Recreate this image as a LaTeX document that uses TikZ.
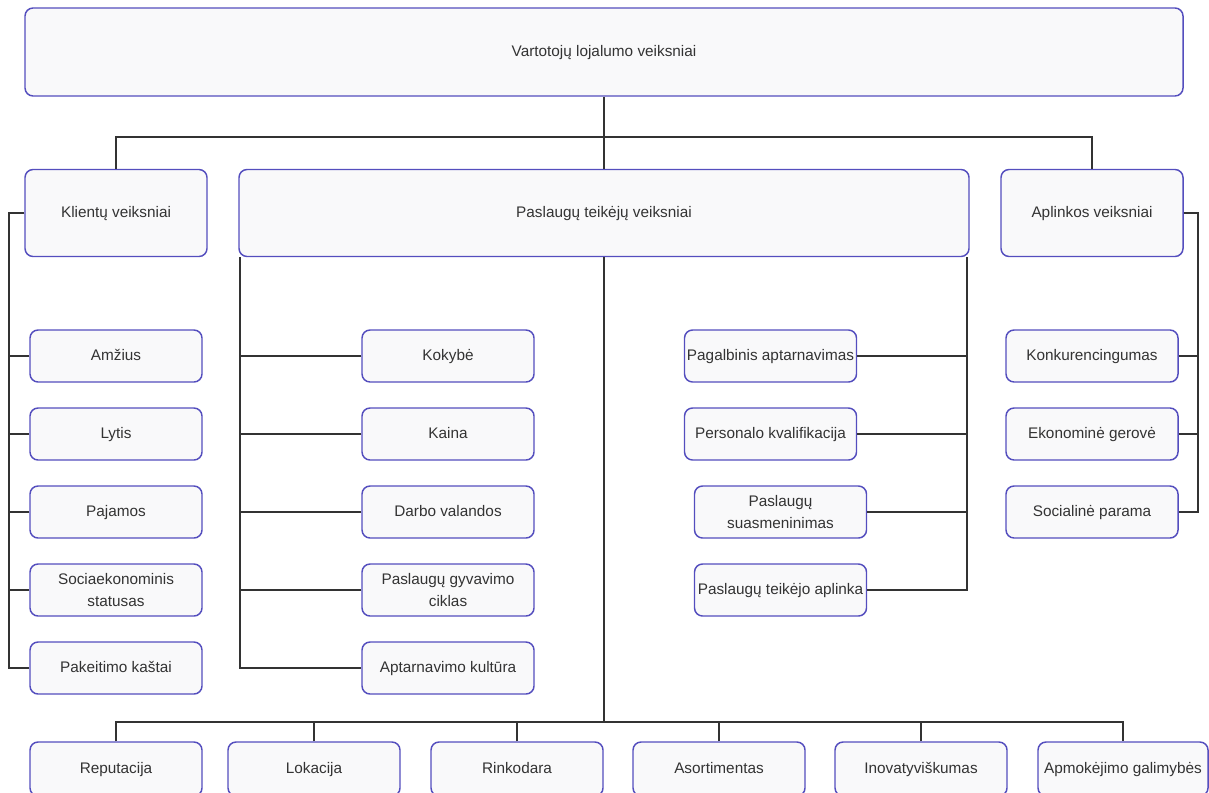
\documentclass[tikz,border=0pt]{standalone}
\usepackage{fontspec}
\setmainfont{Liberation Sans}
\usepackage{tikz}
\usetikzlibrary{calc}
\definecolor{boxblue}{RGB}{84,78,190}
\definecolor{boxfill}{RGB}{249,249,250}
\definecolor{inkgray}{RGB}{51,51,51}
\tikzset{
  boxbase/.style={draw=boxblue, fill=boxfill, line width=1.1pt, rounded corners=6pt,
    inner sep=0pt, align=center, text=inkgray,
    font=\fontsize{11.5}{16.5}\selectfont},
  box/.style={boxbase, text height=8.6pt, text depth=2.6pt},
  kidtwo/.style={boxbase, minimum width=129pt, minimum height=39pt},
  kid/.style={box, minimum width=129pt, minimum height=39pt},
  lowkid/.style={kid, minimum height=40.5pt},
  wire/.style={draw=inkgray, line width=1pt}
}
\begin{document}
\begin{tikzpicture}[x=0.75pt, y=-0.75pt]
                \useasboundingbox (0,0) rectangle (1209,792);

                % main level
                \node[box, minimum width=868.5pt, minimum height=66pt] (root) at (604,52) {Vartotojų lojalumo veiksniai};
                \node[box, minimum width=136.5pt, minimum height=65.25pt] (klient) at (116,213) {Klientų veiksniai};
                \node[box, minimum width=547.5pt, minimum height=65.25pt] (teik) at (604,213) {Paslaugų teikėjų veiksniai};
                \node[box, minimum width=136.5pt, minimum height=65.25pt] (aplink) at (1092,213) {Aplinkos veiksniai};

                % client factors
                \node[kid] (amz) at (116,356) {Amžius};
                \node[kid] (lyt) at (116,434) {Lytis};
                \node[kid] (paj) at (116,512) {Pajamos};
                \node[kidtwo] (soc) at (116,590) {Sociaekonominis\\statusas};
                \node[kid] (pak) at (116,668) {Pakeitimo kaštai};

                % provider factors, left column
                \node[kid] (kok) at (448,356) {Kokybė};
                \node[kid] (kai) at (448,434) {Kaina};
                \node[kid] (darb) at (448,512) {Darbo valandos};
                \node[kidtwo] (gyv) at (448,590) {Paslaugų gyvavimo\\ciklas};
                \node[kid] (kult) at (448,668) {Aptarnavimo kultūra};

                % provider factors, right column
                \node[kid] (pagalb) at (770.5,356) {Pagalbinis aptarnavimas};
                \node[kid] (pers) at (770.5,434) {Personalo kvalifikacija};
                \node[kidtwo] (suasm) at (780.5,512) {Paslaugų\\suasmeninimas};
                \node[kid] (teikapl) at (780.5,590) {Paslaugų teikėjo aplinka};

                % environment factors
                \node[kid] (konk) at (1092,356) {Konkurencingumas};
                \node[kid] (ekon) at (1092,434) {Ekonominė gerovė};
                \node[kid] (socp) at (1092,512) {Socialinė parama};

                % provider factors, bottom row
                \node[lowkid] (rep) at (116,769) {Reputacija};
                \node[lowkid] (lok) at (314,769) {Lokacija};
                \node[lowkid] (rink) at (517,769) {Rinkodara};
                \node[lowkid] (asort) at (719,769) {Asortimentas};
                \node[lowkid] (inov) at (921,769) {Inovatyviškumas};
                \node[lowkid, minimum width=127.5pt] (apmok) at (1123,769) {Apmokėjimo galimybės};

                % bus points
                \coordinate (topbus) at (604,137);
                \coordinate (kbus) at (9,213);
                \coordinate (tlbus) at (240,257);
                \coordinate (trbus) at (967,257);
                \coordinate (abus) at (1198,213);
                \coordinate (botbus) at (604,722);

                % root to the three groups
                \draw[wire] (root.south) -- (teik.north);
                \draw[wire] (klient.north) |- (topbus) -| (aplink.north);

                % client bus
                \draw[wire] (klient.west) -- (kbus) |- (pak.west);
                \foreach \n in {amz,lyt,paj,soc}
                    \draw[wire] (\n.west) -- (\n.west -| kbus);

                % provider bus, left
                \draw[wire] (tlbus) |- (kult.west);
                \foreach \n in {kok,kai,darb,gyv}
                    \draw[wire] (\n.west) -- (\n.west -| tlbus);

                % provider bus, right
                \draw[wire] (trbus) |- (teikapl.east);
                \foreach \n in {pagalb,pers,suasm}
                    \draw[wire] (\n.east) -- (\n.east -| trbus);

                % environment bus
                \draw[wire] (aplink.east) -- (abus) |- (socp.east);
                \foreach \n in {konk,ekon}
                    \draw[wire] (\n.east) -- (\n.east -| abus);

                % provider bus, bottom
                \draw[wire] (teik.south) -- (botbus);
                \draw[wire] (rep.north) |- (botbus) -| (apmok.north);
                \foreach \n in {lok,rink,asort,inov}
                    \draw[wire] (\n.north) -- (\n.north |- botbus);
\end{tikzpicture}
\end{document}
